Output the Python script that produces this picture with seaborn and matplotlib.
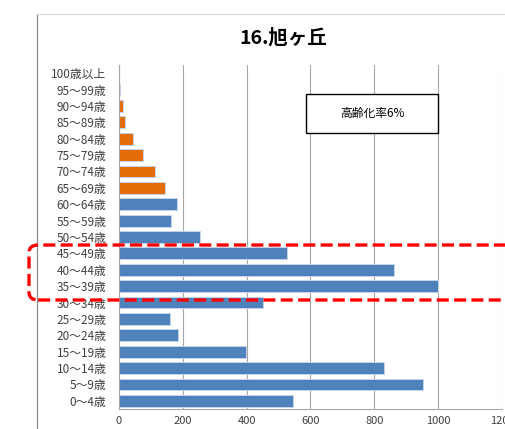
import matplotlib
matplotlib.use("Agg")
import matplotlib.pyplot as plt
from matplotlib.patches import Rectangle, FancyBboxPatch
from matplotlib.lines import Line2D
from matplotlib.ticker import FixedLocator
import seaborn as sns
import pandas as pd

# Population by five-year age group (top row = oldest)
age_groups = [
    "100歳以上", "95～99歳", "90～94歳", "85～89歳", "80～84歳",
    "75～79歳", "70～74歳", "65～69歳", "60～64歳", "55～59歳",
    "50～54歳", "45～49歳", "40～44歳", "35～39歳", "30～34歳",
    "25～29歳", "20～24歳", "15～19歳", "10～14歳", "5～9歳", "0～4歳",
]
population = [0, 2, 12, 18, 43, 75, 114, 144, 181, 163,
              254, 527, 861, 1000, 450, 159, 184, 397, 829, 951, 545]
elderly = [True] * 8 + [False] * 13
x_ticks = [0, 200, 400, 600, 800, 1000, 1200]
title = "16.旭ヶ丘"
note = "高齢化率6%"

sns.set_style("white")
plt.rcParams["font.family"] = ["Noto Sans CJK JP", "DejaVu Sans"]

BLUE = "#4F81BD"
ORANGE = "#E46C0A"

df = pd.DataFrame({
    "age": age_groups,
    "pop": population,
    "group": ["高齢" if e else "その他" for e in elderly],
})

W, H = 506, 429
fig = plt.figure(figsize=(W / 100, H / 100), dpi=100)
ax = fig.add_axes([119 / W, 1 - 409 / H, (502 - 119) / W, (409 - 65) / H])

sns.barplot(data=df, y="age", x="pop", hue="group",
            palette={"高齢": ORANGE, "その他": BLUE}, saturation=1,
            order=age_groups, dodge=False, width=0.72,
            edgecolor="#C6D4E8", linewidth=0.7, legend=False, ax=ax)

ax.set_xlim(0, 1200)
ax.set_ylim(len(age_groups) - 0.5, -0.5)
ax.set_xticks(x_ticks)
ax.set_xticklabels([str(t) for t in x_ticks], fontsize=8, color="#404040")
ax.set_xlabel("")
ax.set_ylabel("")
ax.set_yticks(range(len(age_groups)))
ax.set_yticklabels(age_groups, fontsize=8.5, color="#404040")
ax.tick_params(axis="y", which="major", length=0, pad=9)
ax.yaxis.set_minor_locator(FixedLocator([i - 0.5 for i in range(len(age_groups) + 1)]))
ax.tick_params(axis="y", which="minor", length=3.5, width=0.8, color="#A6A6A6",
               direction="out")
ax.tick_params(axis="x", which="major", length=3.5, width=0.8, color="#A6A6A6",
               direction="out", pad=1.5)

ax.grid(axis="x", color="#A6A6A6", linewidth=0.8)
ax.set_axisbelow(True)
for side in ("top", "right"):
    ax.spines[side].set_visible(False)
for side in ("left", "bottom"):
    ax.spines[side].set_color("#A6A6A6")
    ax.spines[side].set_linewidth(0.8)

# chart frame edges
fig.add_artist(Line2D([37 / W, 37 / W], [0, 1 - 14 / H], color="#8C8C8C", lw=0.9))
fig.add_artist(Line2D([37 / W, 1], [1 - 14 / H, 1 - 14 / H], color="#D9D9D9", lw=0.8))

fig.text(283 / W, 1 - 38 / H, title, ha="center", va="center",
         fontsize=14, fontweight="bold", color="#000000")

# note box
fig.add_artist(Rectangle((306 / W, 1 - 133 / H), 132 / W, 39 / H,
                         transform=fig.transFigure, facecolor="white",
                         edgecolor="black", lw=1.0, zorder=5))
fig.text(372 / W, 1 - 113.5 / H, note, ha="center", va="center",
         fontsize=8.5, color="#000000", zorder=6)

# red dashed highlight around ages 35–49
hl = FancyBboxPatch((29 / W, 1 - 300 / H), 500 / W, 55 / H,
                    boxstyle="round,pad=0,rounding_size=0.018",
                    transform=fig.transFigure, fill=False,
                    edgecolor="#FF0000", lw=2.4, linestyle=(0, (3.6, 1.6)),
                    zorder=10, clip_on=False)
fig.add_artist(hl)

fig.savefig("out.png", dpi=100)
